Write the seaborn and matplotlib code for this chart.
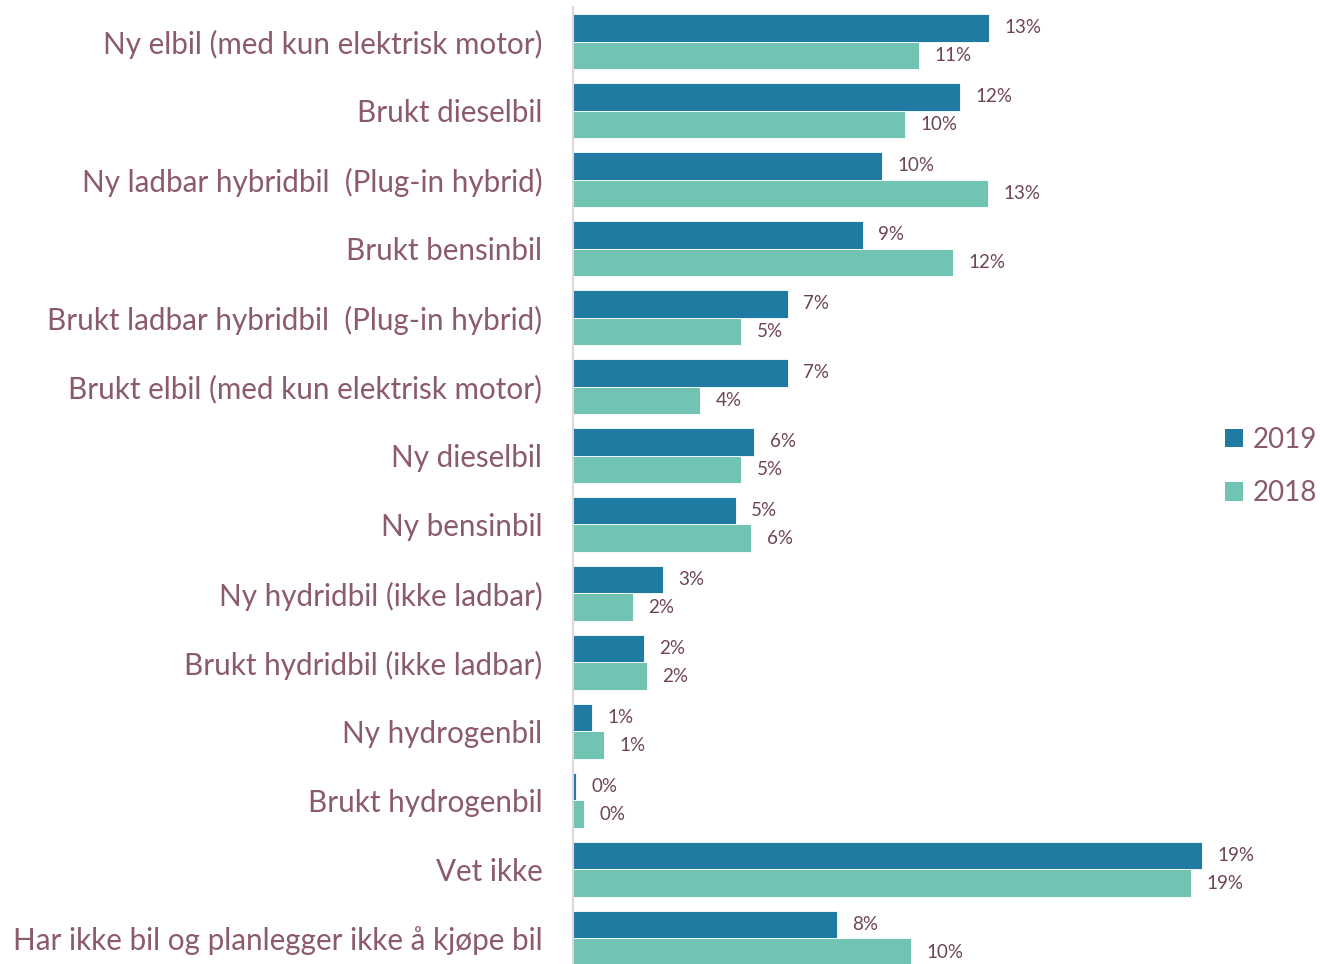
import pandas as pd
import matplotlib
matplotlib.use("Agg")
import matplotlib.pyplot as plt
import seaborn as sns
from matplotlib.patches import Patch

# ---------------------------
# DATA (share in %)
# ---------------------------
categories = [
    "Ny elbil (med kun elektrisk motor)",
    "Brukt dieselbil",
    "Ny ladbar hybridbil  (Plug-in hybrid)",
    "Brukt bensinbil",
    "Brukt ladbar hybridbil  (Plug-in hybrid)",
    "Brukt elbil (med kun elektrisk motor)",
    "Ny dieselbil",
    "Ny bensinbil",
    "Ny hydridbil (ikke ladbar)",
    "Brukt hydridbil (ikke ladbar)",
    "Ny hydrogenbil",
    "Brukt hydrogenbil",
    "Vet ikke",
    "Har ikke bil og planlegger ikke å kjøpe bil",
]
values_2019 = [12.85, 11.95, 9.54, 8.95, 6.63, 6.63, 5.60, 5.02, 2.79, 2.20, 0.59, 0.09, 19.41, 8.14]
values_2018 = [10.68, 10.25, 12.82, 11.73, 5.20, 3.93, 5.20, 5.51, 1.86, 2.29, 0.96, 0.34, 19.07, 10.43]
years = ["2019", "2018"]
colors = ["#1f7ba1", "#71c4b4"]

df = pd.DataFrame({
    "kategori": categories * 2,
    "andel": values_2019 + values_2018,
    "år": [years[0]] * len(categories) + [years[1]] * len(categories),
})

# ---------------------------
# PLOT
# ---------------------------
sns.set_style("white")
plt.rcParams["font.family"] = ["Lato", "DejaVu Sans"]
label_col = "#8b5a6b"
value_col = "#6e4453"

fig = plt.figure(figsize=(13.2, 9.64), dpi=100)
ax = fig.add_axes([0.434, -0.0093, 0.54, 1.002])

sns.barplot(
    data=df, y="kategori", x="andel", hue="år",
    hue_order=years, palette=colors, order=categories,
    orient="h", width=0.81, saturation=1, edgecolor="white", linewidth=0.6,
    legend=False, ax=ax,
)

for cont in ax.containers:
    ax.bar_label(cont, labels=[f"{v:.0f}%" for v in cont.datavalues],
                 padding=11, fontsize=13.5, color=value_col)

ax.set_xlim(0, 22.0)
ax.set_ylim(len(categories) - 0.5, -0.5)
ax.set_xlabel("")
ax.set_ylabel("")
ax.set_xticks([])
ax.tick_params(axis="y", length=0, pad=22, labelsize=21.3, labelcolor=label_col)

for s in ["top", "right", "bottom"]:
    ax.spines[s].set_visible(False)
ax.spines["left"].set_color("#e2d6da")
ax.spines["left"].set_linewidth(1.5)

handles = [Patch(facecolor=c, edgecolor="none") for c in colors]
fig.legend(handles, years, loc="center left", bbox_to_anchor=(0.928, 0.516),
           frameon=False, fontsize=20, labelcolor=label_col, borderpad=0,
           borderaxespad=0, handlelength=0.65, handleheight=0.65,
           handletextpad=0.35, labelspacing=1.0)

fig.savefig("out.png", dpi=100)
